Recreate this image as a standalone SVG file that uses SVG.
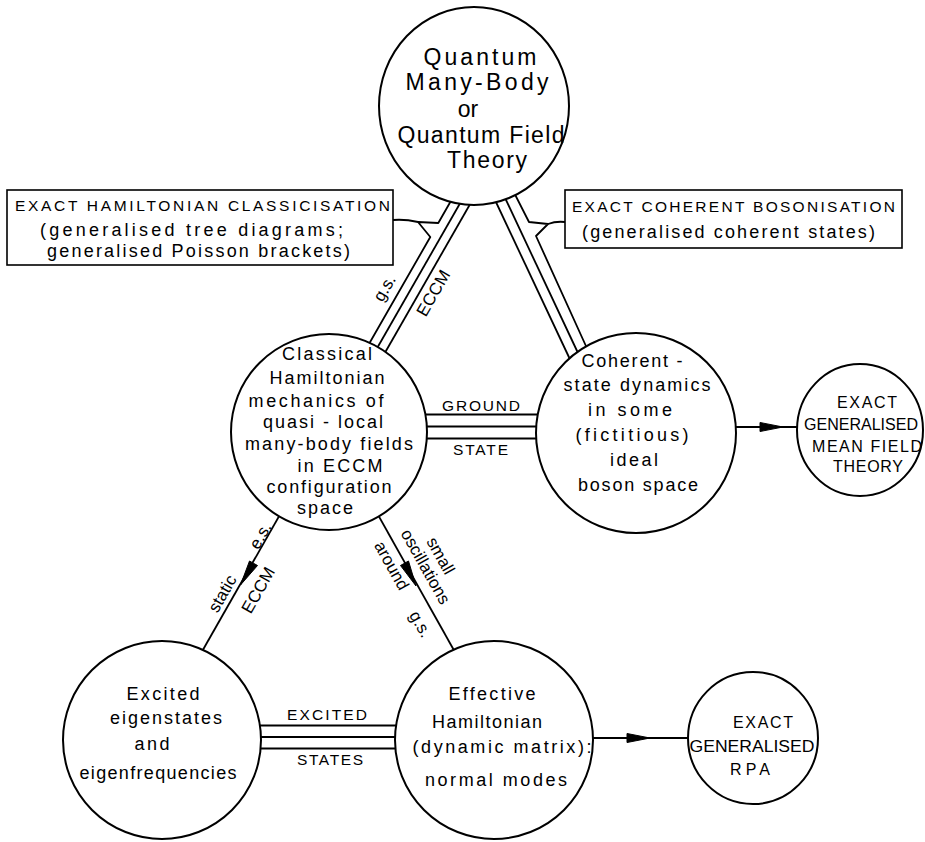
<svg xmlns="http://www.w3.org/2000/svg" width="925" height="842" viewBox="0 0 925 842">
<style>
.n{fill:#fff;stroke:#000;stroke-width:2}
.b{fill:#fff;stroke:#000;stroke-width:1.6}
.c{fill:none;stroke:#000;stroke-width:1.8;stroke-linejoin:round}
.ah{fill:#000;stroke:#000;stroke-width:1}
text{font-family:"Liberation Sans",Arial,sans-serif;fill:#000;text-anchor:middle}
.t18{font-size:18px}
.t24{font-size:23px}
.t16{font-size:16px}
.t15{font-size:15.5px}
.t17{font-size:17px}
</style>
<g id="connectors">
  <!-- left triple (top to classical) -->
  <polyline class="c" points="359.8,360 430.3,237 418,222 438.3,223 462.9,180"/>
  <line class="c" x1="370.3" y1="360" x2="473.4" y2="180"/>
  <line class="c" x1="380.8" y1="360" x2="483.9" y2="180"/>
  <path class="c" d="M393,220 Q405,219 418,222"/>
  <!-- right triple (top to coherent) -->
  <line class="c" x1="485.6" y1="180" x2="570.3" y2="360"/>
  <line class="c" x1="496.6" y1="180" x2="581.3" y2="360"/>
  <polyline class="c" points="507.6,180 529,222 548,224 536,236 592.3,360"/>
  <path class="c" d="M548,224 Q556,221 565,222"/>
  <!-- ground state -->
  <line class="c" x1="400" y1="414.5" x2="560" y2="414.5"/>
  <line class="c" x1="400" y1="426.5" x2="560" y2="426.5"/>
  <line class="c" x1="400" y1="438.5" x2="560" y2="438.5"/>
  <!-- excited states -->
  <line class="c" x1="240" y1="725.5" x2="420" y2="725.5"/>
  <line class="c" x1="240" y1="737" x2="420" y2="737"/>
  <line class="c" x1="240" y1="748.5" x2="420" y2="748.5"/>
  <!-- classical to excited -->
  <line class="c" x1="290" y1="497" x2="200" y2="655"/>
  <polygon class="ah" points="240.5,585 249.5,561 257.5,565.5"/>
  <!-- classical to effective -->
  <line class="c" x1="368" y1="497" x2="460" y2="661"/>
  <polygon class="ah" points="416,586 400.5,565.5 408.5,561"/>
  <!-- coherent to mean field -->
  <line class="c" x1="730" y1="427" x2="800" y2="427"/>
  <polygon class="ah" points="783,427 760,422.5 760,431.5"/>
  <!-- effective to RPA -->
  <line class="c" x1="590" y1="738" x2="692" y2="738"/>
  <polygon class="ah" points="650,738 627,733.5 627,742.5"/>
</g>
<g id="labels">
  <text class="t15" x="481" y="411" textLength="78">GROUND</text>
  <text class="t15" x="480.5" y="455" textLength="55">STATE</text>
  <text class="t15" x="327" y="720" textLength="80">EXCITED</text>
  <text class="t15" x="330" y="765" textLength="66">STATES</text>
  <text class="t17" transform="translate(386,289) rotate(-60)" y="4">g.s.</text>
  <text class="t17" transform="translate(433,293) rotate(-60)" y="6">ECCM</text>
  <text class="t17" transform="translate(261,536) rotate(-60.4)" y="5">e.s.</text>
  <text class="t17" transform="translate(223,594) rotate(-60.4)" y="5">static</text>
  <text class="t17" transform="translate(258,590) rotate(-60.4)" y="6">ECCM</text>
  <text class="t17" transform="translate(440,556) rotate(60.7)" y="5">small</text>
  <text class="t17" transform="translate(425,567) rotate(60.7)" y="5">oscillations</text>
  <text class="t17" transform="translate(391,566) rotate(60.7)" y="5">around</text>
  <text class="t17" transform="translate(419,625) rotate(60.7)" y="4">g.s.</text>
</g>
<g id="box-classicisation">
  <rect class="b" x="7" y="190" width="386" height="75"/>
  <text class="t15" x="202.5" y="211" textLength="375">EXACT HAMILTONIAN CLASSICISATION</text>
  <text class="t18" x="191.5" y="236" textLength="303">(generalised tree diagrams;</text>
  <text class="t18" x="198.5" y="257" textLength="303">generalised Poisson brackets)</text>
</g>
<g id="box-bosonisation">
  <rect class="b" x="565" y="190" width="337" height="58"/>
  <text class="t15" x="733.5" y="212" textLength="323">EXACT COHERENT BOSONISATION</text>
  <text class="t18" x="728.5" y="238" textLength="293">(generalised coherent states)</text>
</g>
<g id="node-quantum">
  <ellipse class="n" cx="474" cy="106" rx="95" ry="99"/>
  <text class="t24" x="480" y="65" textLength="113">Quantum</text>
  <text class="t24" x="477" y="90" textLength="143">Many-Body</text>
  <text class="t24" x="468" y="116.5">or</text>
  <text class="t24" x="481" y="142.5" textLength="167">Quantum Field</text>
  <text class="t24" x="487" y="168" textLength="80">Theory</text>
</g>
<g id="node-classical">
  <circle class="n" cx="329" cy="432" r="98"/>
  <text class="t18" x="327" y="360" textLength="90">Classical</text>
  <text class="t18" x="327" y="384" textLength="115">Hamiltonian</text>
  <text class="t18" x="316" y="407" textLength="135">mechanics of</text>
  <text class="t18" x="323" y="428" textLength="120">quasi - local</text>
  <text class="t18" x="329" y="450" textLength="168">many-body fields</text>
  <text class="t18" x="340" y="472" textLength="85">in ECCM</text>
  <text class="t18" x="329" y="492.5" textLength="125">configuration</text>
  <text class="t18" x="325" y="513.5" textLength="56">space</text>
</g>
<g id="node-coherent">
  <circle class="n" cx="636" cy="433" r="100"/>
  <text class="t18" x="632" y="367" textLength="101">Coherent -</text>
  <text class="t18" x="637" y="391" textLength="147">state dynamics</text>
  <text class="t18" x="630" y="416" textLength="84">in some</text>
  <text class="t18" x="632" y="441" textLength="113">(fictitious)</text>
  <text class="t18" x="634" y="466" textLength="48">ideal</text>
  <text class="t18" x="638" y="491" textLength="120">boson space</text>
</g>
<g id="node-meanfield">
  <ellipse class="n" cx="860" cy="430" rx="63" ry="66"/>
  <text class="t16" x="867" y="408" textLength="60">EXACT</text>
  <text class="t16" x="861" y="430" textLength="114" lengthAdjust="spacingAndGlyphs">GENERALISED</text>
  <text class="t16" x="867" y="452" textLength="110">MEAN FIELD</text>
  <text class="t16" x="868" y="472" textLength="70">THEORY</text>
</g>
<g id="node-excited">
  <circle class="n" cx="162" cy="740" r="99"/>
  <text class="t18" x="163" y="700" textLength="73">Excited</text>
  <text class="t18" x="166" y="724" textLength="112">eigenstates</text>
  <text class="t18" x="152" y="750" textLength="35">and</text>
  <text class="t18" x="158" y="779" textLength="157">eigenfrequencies</text>
</g>
<g id="node-effective">
  <circle class="n" cx="494" cy="740" r="99"/>
  <text class="t18" x="492" y="700" textLength="87">Effective</text>
  <text class="t18" x="487" y="728" textLength="110">Hamiltonian</text>
  <text class="t18" x="502" y="753" textLength="179">(dynamic matrix):</text>
  <text class="t18" x="496" y="786" textLength="142">normal modes</text>
</g>
<g id="node-rpa">
  <ellipse class="n" cx="753" cy="738" rx="65" ry="66"/>
  <text class="t16" x="763" y="728" textLength="60">EXACT</text>
  <text class="t16" x="752" y="752" textLength="125" lengthAdjust="spacingAndGlyphs">GENERALISED</text>
  <text class="t16" x="750" y="775" textLength="40">RPA</text>
</g>
</svg>
